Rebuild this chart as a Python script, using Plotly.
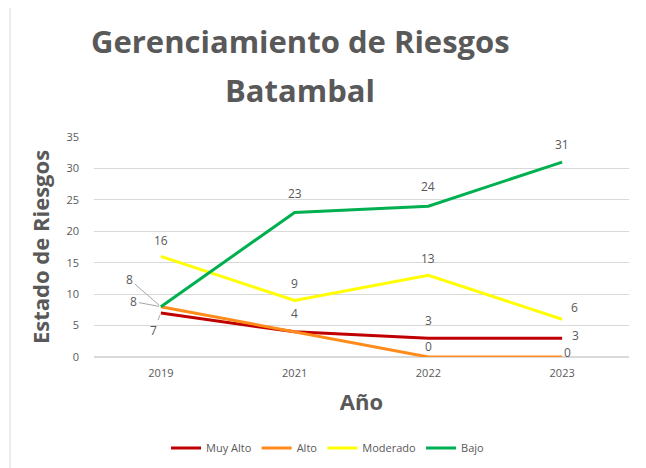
import plotly.graph_objects as go

years = ["2019", "2021", "2022", "2023"]
muy_alto = [7, 4, 3, 3]
alto = [8, 4, 0, 0]
moderado = [16, 9, 13, 6]
bajo = [8, 23, 24, 31]

series_names = ["Muy Alto", "Alto", "Moderado", "Bajo"]
series_values = [muy_alto, alto, moderado, bajo]
colors = ["#C00000", "#FF8C1A", "#FFFF00", "#00B050"]

title_line1 = "Gerenciamiento de Riesgos"
title_line2 = "Batambal"
y_title = "Estado de Riesgos"
x_title = "Año"
y_ticks = [0, 5, 10, 15, 20, 25, 30, 35]

FONT = "Open Sans"
GREY = "#595959"

fig = go.Figure()
for name, vals, col in zip(series_names, series_values, colors):
    fig.add_trace(go.Scatter(x=years, y=vals, name=name, mode="lines",
                             line=dict(color=col, width=3)))

# label offsets (pixels) per series per point; None = hidden; 'arrow' = leader line
offsets = {
    "Muy Alto": [("arrow", -7, 17), None, (0, 18), (13, 3)],
    "Alto": [("arrow", -27, -5), (0, 18), (0, 11), (5, 5)],
    "Moderado": [(0, 16), (0, 17), (0, 17), (12, 12)],
    "Bajo": [("arrow", -31, -27), (0, 19), (0, 20), (0, 18)],
}

annotations = []
for name, vals in zip(series_names, series_values):
    for i, (v, off) in enumerate(zip(vals, offsets[name])):
        if off is None:
            continue
        if off[0] == "arrow":
            annotations.append(dict(x=i, y=v, xref="x", yref="y", text=str(v),
                                    showarrow=True, arrowhead=0, arrowwidth=1,
                                    arrowcolor="#a6a6a6", ax=off[1], ay=off[2],
                                    standoff=2,
                                    font=dict(family=FONT, size=12, color=GREY)))
        else:
            annotations.append(dict(x=i, y=v, xref="x", yref="y", text=str(v),
                                    showarrow=False, xshift=off[0], yshift=off[1],
                                    xanchor="center", yanchor="middle",
                                    font=dict(family=FONT, size=12, color=GREY)))

# title lines
annotations.append(dict(x=(300 - 94) / 535, y=(357 - 41) / 220, xref="paper", yref="paper",
                        text=title_line1, showarrow=False, xanchor="center", yanchor="middle",
                        font=dict(family=FONT, size=31, color=GREY, weight="bold")))
annotations.append(dict(x=(300 - 94) / 535, y=(357 - 90) / 220, xref="paper", yref="paper",
                        text=title_line2, showarrow=False, xanchor="center", yanchor="middle",
                        font=dict(family=FONT, size=31, color=GREY, weight="bold")))

fig.update_layout(
    width=638, height=460,
    margin=dict(l=86, r=17, t=129, b=111, autoexpand=False),
    paper_bgcolor="white", plot_bgcolor="white",
    font=dict(family=FONT, color=GREY, size=11),
    showlegend=True,
    legend=dict(orientation="h", x=(328 - 94) / 535, xanchor="center",
                y=(357 - 448) / 220, yanchor="middle",
                font=dict(family=FONT, size=11, color=GREY), itemwidth=30),
    annotations=annotations,
    shapes=[dict(type="rect", xref="paper", yref="paper",
                 x0=(10 - 94) / 535, x1=(643 - 94) / 535,
                 y0=(357 - 475) / 220, y1=(357 - 6) / 220,
                 line=dict(color="#d9d9d9", width=1), fillcolor="rgba(0,0,0,0)", layer="below")],
)
fig.update_xaxes(type="category", categoryorder="array", categoryarray=years,
                 range=[-0.5, 3.5], showgrid=False, showline=False, ticks="",
                 automargin=False, ticklabelstandoff=8,
                 tickfont=dict(size=11, color=GREY),
                 title=dict(text=x_title, standoff=15,
                            font=dict(family=FONT, size=22, color=GREY, weight="bold")))
fig.update_yaxes(range=[0, 35], tickvals=y_ticks, showgrid=True, gridcolor="#d9d9d9",
                 gridwidth=1, zeroline=True, zerolinecolor="#d9d9d9", showline=False,
                 automargin=False,
                 ticks="", ticklabelstandoff=14, tickfont=dict(size=11, color=GREY),
                 title=dict(text=y_title, standoff=10,
                            font=dict(family=FONT, size=22, color=GREY, weight="bold")))

fig.write_html("out.html")
